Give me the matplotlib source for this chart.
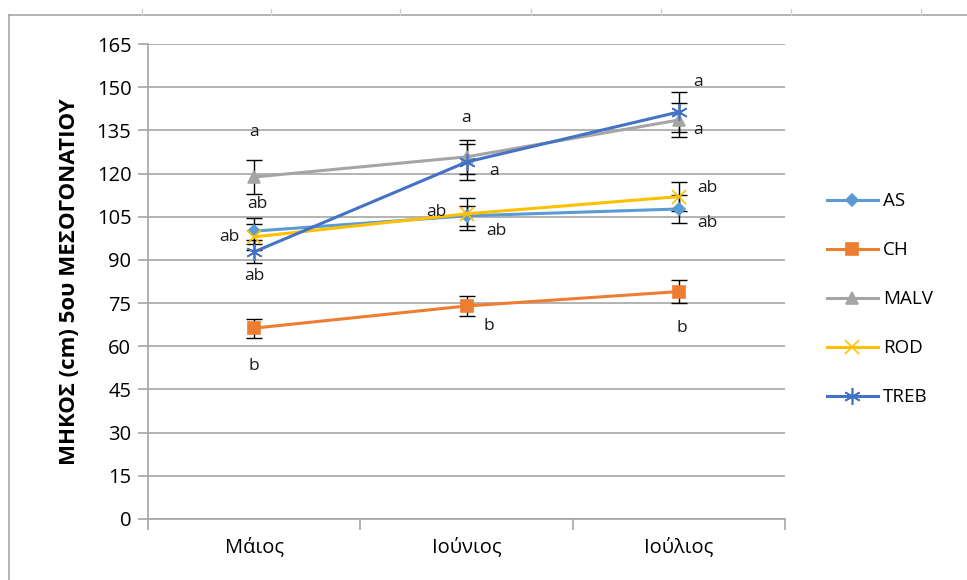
import matplotlib.pyplot as plt
from matplotlib.lines import Line2D
import numpy as np

# months and mean internode length per rootstock
months = ['Μάιος', 'Ιούνιος', 'Ιούλιος']
series = ['AS', 'CH', 'MALV', 'ROD', 'TREB']
means = {
    'AS':   [100, 105.3, 107.7],
    'CH':   [66.3, 74, 79],
    'MALV': [118.8, 125.8, 138.6],
    'ROD':  [98, 106, 112],
    'TREB': [92.8, 124, 141.4],
}
errors = {
    'AS':   [4.5, 3.5, 5],
    'CH':   [3.3, 3.5, 4],
    'MALV': [5.8, 6, 6],
    'ROD':  [4.5, 5.5, 5],
    'TREB': [4, 6.2, 7],
}
letters = {
    'AS':   ['ab', 'ab', 'ab'],
    'CH':   ['b', 'b', 'b'],
    'MALV': ['a', 'a', 'a'],
    'ROD':  ['ab', 'ab', 'ab'],
    'TREB': ['ab', 'a', 'a'],
}
yticks = list(range(0, 166, 15))

colors = {'AS': '#5B9BD5', 'CH': '#ED7D31', 'MALV': '#A5A5A5', 'ROD': '#FFC000', 'TREB': '#4472C4'}
markers = {'AS': 'D', 'CH': 's', 'MALV': '^', 'ROD': 'x', 'TREB': (6, 2, 0)}
msizes = {'AS': 6, 'CH': 9, 'MALV': 9, 'ROD': 10, 'TREB': 12}
# letter offsets in pixels from each point
offsets = {
    'AS':   [(3, 27), (30, -15), (29, -14)],
    'CH':   [(0, -38), (22, -20), (3, -36)],
    'MALV': [(0, 45), (0, 39), (19, -10)],
    'ROD':  [(-25, 0), (-30, 2), (29, 9)],
    'TREB': [(0, -24), (28, -9), (19, 30)],
}

plt.rcParams['font.family'] = ['Open Sans', 'DejaVu Sans']

fig = plt.figure(figsize=(9.67, 5.8), dpi=100)
ax = fig.add_axes([148/967, 61/580, 637/967, 475/580])
x = np.arange(len(months))

for s in series:
    ax.errorbar(x, means[s], yerr=errors[s], fmt='none', ecolor='black',
                elinewidth=1, capsize=6, capthick=1, zorder=3)
handles = []
for s in series:
    h, = ax.plot(x, means[s], color=colors[s], lw=2.2, marker=markers[s],
                 ms=msizes[s], mec=colors[s], mfc=colors[s], mew=1.2, zorder=4, label=s)
    handles.append(h)
    for i in range(len(months)):
        ax.annotate(letters[s][i], (x[i], means[s][i]), xytext=offsets[s][i],
                    textcoords='offset pixels', ha='center', va='center',
                    fontsize=12.5, color='#1a1a1a', zorder=5)

ax.set_xlim(-0.5, 2.5)
ax.set_ylim(0, 165)
ax.set_yticks(yticks)
ax.set_yticklabels([str(v) for v in yticks], fontsize=14.5)
ax.set_xticks(x)
ax.set_xticklabels(months, fontsize=14.5)
ax.set_xticks([-0.5, 0.5, 1.5, 2.5], minor=True)
ax.tick_params(axis='x', which='major', length=0, pad=13)
ax.tick_params(axis='x', which='minor', length=8, color='#A6A6A6', width=1.2)
ax.tick_params(axis='y', length=7, color='#A6A6A6', width=1.2, pad=5)
ax.grid(axis='y', color='#A6A6A6', lw=1.2)
ax.set_axisbelow(True)
for side in ['top', 'right']:
    ax.spines[side].set_visible(False)
for side in ['left', 'bottom']:
    ax.spines[side].set_color('#A6A6A6')
    ax.spines[side].set_linewidth(1.2)

ax.set_ylabel('ΜΗΚΟΣ (cm) 5ου ΜΕΣΟΓΟΝΑΤΙΟΥ', fontsize=16, fontweight='bold', labelpad=12)

fig.legend(handles=handles, loc='center left', bbox_to_anchor=(810/967, 0.484),
           frameon=False, fontsize=13.5, handlelength=2.7, labelspacing=1.65,
           handletextpad=0.3)

# outer chart border with sheet column marks
border = '#A6A6A6'
fig.add_artist(Line2D([9/967, 1], [1 - 15/580, 1 - 15/580], color=border, lw=1.2))
fig.add_artist(Line2D([9/967, 9/967], [0, 1 - 15/580], color=border, lw=1.2))
for cx in [142, 271, 400, 531, 661, 791, 921]:
    fig.add_artist(Line2D([cx/967, cx/967], [1 - 15/580, 1 - 9/580], color='#D0D0D0', lw=1))

fig.savefig('out.png', dpi=100, facecolor='white')
